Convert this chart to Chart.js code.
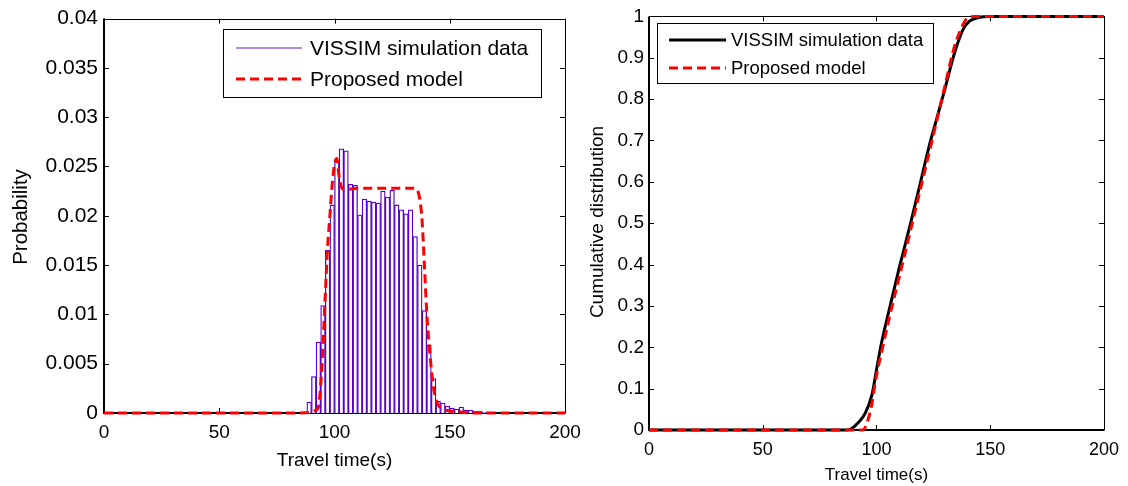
<!DOCTYPE html>
<html>
<head>
<meta charset="utf-8">
<script src="https://cdn.jsdelivr.net/npm/chart.js@4.4.1/dist/chart.umd.min.js"></script>
<style>
  html, body { margin: 0; padding: 0; background: #fff; }
  body { width: 1128px; height: 486px; position: relative; overflow: hidden; }
  canvas { position: absolute; top: 0; }
  #chart-pdf { left: 0; }
  #chart-cdf { left: 560px; }
</style>
</head>
<body>
<canvas id="chart-pdf" width="590" height="486"></canvas>
<canvas id="chart-cdf" width="568" height="486"></canvas>
<script>
// tick labels
const timeTicks = [0, 50, 100, 150, 200];
const probTicks = [0, 0.005, 0.01, 0.015, 0.02, 0.025, 0.03, 0.035, 0.04];
const cdfTicks = [0, 0.1, 0.2, 0.3, 0.4, 0.5, 0.6, 0.7, 0.8, 0.9, 1];

// histogram of VISSIM travel times (bin centres, 2 s bins)
const histCenters = [89, 91, 93, 95, 97, 99, 101, 103, 105, 107, 109, 111, 113, 115, 117, 119, 121, 123, 125, 127,
  129, 131, 133, 135, 137, 139, 141, 143, 145, 147, 149, 151, 153, 155, 157, 159, 161, 163, 165, 167];
const histProb = [0.0011, 0.0037, 0.0072, 0.0109, 0.0165, 0.0211, 0.0255, 0.0268, 0.0266, 0.0232,
  0.0231, 0.0201, 0.0217, 0.0215, 0.0214, 0.0213, 0.0225, 0.0219, 0.0226, 0.0211,
  0.0206, 0.0202, 0.0206, 0.0179, 0.0150, 0.0104, 0.0069, 0.0035, 0.0012, 0.0010,
  0.0007, 0.0005, 0.0004, 0.0006, 0.0003, 0.0003, 0.0002, 0.0002, 0.0001, 0.0001];

// proposed model pdf
const modelTime = [0, 85, 90, 92, 93, 94, 95, 96, 97, 98, 99, 100, 101, 102, 103, 104, 106, 110, 120, 130,
  135, 136, 137, 138, 139, 140, 141, 142, 143, 144, 145, 147, 150, 155, 160, 200];
const modelPdf = [0, 0, 0.0001, 0.0003, 0.0006, 0.0028, 0.0068, 0.0120, 0.0168, 0.0200, 0.0232, 0.0252, 0.0258, 0.0240, 0.0229, 0.0227, 0.0227, 0.0228, 0.0228, 0.0228,
  0.0228, 0.0226, 0.0217, 0.0195, 0.0150, 0.0103, 0.0070, 0.0045, 0.0025, 0.0014, 0.0008, 0.0004, 0.0002, 0.0001, 0, 0];

// cumulative distributions
const simCdfTime = [0, 87, 89, 92, 95, 98, 100, 102, 106, 110, 115, 119, 123, 127, 130, 134, 138, 141, 144, 147, 150, 200];
const simCdf = [0, 0, 0.003, 0.018, 0.04, 0.085, 0.145, 0.205, 0.3, 0.392, 0.5, 0.591, 0.683, 0.763, 0.823, 0.906, 0.968, 0.989, 0.996, 0.999, 1, 1];
const modelCdfTime = [0, 94, 96, 98, 99, 100, 102, 106, 112, 118, 124, 130, 134, 137, 139, 141, 143, 200];
const modelCdf = [0, 0, 0.02, 0.064, 0.1, 0.132, 0.183, 0.28, 0.415, 0.553, 0.69, 0.83, 0.922, 0.968, 0.99, 0.998, 1, 1];

const FONT = "'Liberation Sans', Arial, sans-serif";
const RED = "#ff0000";
const PURPLE = "#5a00c8";

const toPoints = (xs, ys) => xs.map((x, i) => ({ x: x, y: ys[i] }));
const fixTicks = (values) => (scale) => {
  scale.ticks = values.map((v) => ({ value: v }));
};

// matlab style box, inward ticks, axis titles and legend
const matlabFrame = {
  id: "matlabFrame",
  beforeDatasetsDraw(chart, args, opts) {
    const { ctx, chartArea: a, scales } = chart;
    const len = 5;
    ctx.save();
    ctx.strokeStyle = "#000";
    ctx.lineWidth = 1;
    ctx.beginPath();
    scales.x.ticks.forEach((t) => {
      const px = Math.round(scales.x.getPixelForValue(t.value)) + 0.5;
      ctx.moveTo(px, a.bottom); ctx.lineTo(px, a.bottom - len);
      ctx.moveTo(px, a.top); ctx.lineTo(px, a.top + len);
    });
    scales.y.ticks.forEach((t) => {
      const py = Math.round(scales.y.getPixelForValue(t.value)) + 0.5;
      ctx.moveTo(a.left, py); ctx.lineTo(a.left + len, py);
      ctx.moveTo(a.right, py); ctx.lineTo(a.right - len, py);
    });
    ctx.stroke();
    // top and right
    ctx.beginPath();
    ctx.moveTo(a.left, Math.round(a.top) + 0.5);
    ctx.lineTo(Math.round(a.right) + 0.5, Math.round(a.top) + 0.5);
    ctx.lineTo(Math.round(a.right) + 0.5, a.bottom);
    ctx.stroke();
    // left and bottom
    ctx.lineWidth = 2;
    ctx.beginPath();
    ctx.moveTo(Math.round(a.left), a.top);
    ctx.lineTo(Math.round(a.left), Math.round(a.bottom));
    ctx.lineTo(a.right + 0.5, Math.round(a.bottom));
    ctx.stroke();
    ctx.restore();
  },
  afterDatasetsDraw(chart, args, opts) {
    const { ctx, chartArea: a } = chart;
    ctx.save();
    ctx.fillStyle = "#000";
    ctx.textAlign = "center";
    ctx.textBaseline = "middle";
    ctx.font = opts.xTitleSize + "px " + FONT;
    ctx.fillText(opts.xTitle, (a.left + a.right) / 2, opts.xTitleY);
    ctx.save();
    ctx.translate(opts.yTitleX, opts.yTitleY);
    ctx.rotate(-Math.PI / 2);
    ctx.font = opts.yTitleSize + "px " + FONT;
    ctx.fillText(opts.yTitle, 0, 0);
    ctx.restore();

    const lg = opts.legend;
    ctx.fillStyle = "#fff";
    ctx.fillRect(lg.x, lg.y, lg.w, lg.h);
    ctx.strokeStyle = "#000";
    ctx.lineWidth = 1;
    ctx.strokeRect(lg.x + 0.5, lg.y + 0.5, lg.w, lg.h);
    ctx.font = lg.size + "px " + FONT;
    ctx.textAlign = "left";
    lg.items.forEach((it) => {
      ctx.strokeStyle = it.color;
      ctx.lineWidth = it.width;
      ctx.setLineDash(it.dash || []);
      ctx.beginPath();
      ctx.moveTo(lg.lineX0, it.y);
      ctx.lineTo(lg.lineX1, it.y);
      ctx.stroke();
      ctx.setLineDash([]);
      ctx.fillStyle = "#000";
      ctx.fillText(it.label, lg.textX, it.y + 1);
    });
    ctx.restore();
  },
};

const pdfChart = new Chart(document.getElementById("chart-pdf"), {
  type: "bar",
  data: {
    datasets: [
      {
        type: "line",
        label: "Proposed model",
        data: toPoints(modelTime, modelPdf),
        borderColor: RED,
        borderWidth: 3,
        borderDash: [9, 5],
        pointRadius: 0,
        cubicInterpolationMode: "monotone",
        clip: false,
        order: 0,
      },
      {
        type: "bar",
        label: "VISSIM simulation data",
        data: toPoints(histCenters, histProb),
        backgroundColor: "#ffffff",
        borderColor: PURPLE,
        borderWidth: 1.3,
        barPercentage: 1,
        categoryPercentage: 1,
        order: 1,
      },
    ],
  },
  plugins: [matlabFrame],
  options: {
    responsive: false,
    animation: false,
    layout: { padding: { top: 15, right: 25, left: 0, bottom: 0 } },
    scales: {
      x: {
        type: "linear",
        min: 0,
        max: 200,
        offset: false,
        afterBuildTicks: fixTicks(timeTicks),
        afterFit: (scale) => { scale.height = 73; },
        grid: { display: false, drawTicks: false },
        border: { display: false },
        ticks: { color: "#000", padding: 8, font: { family: FONT, size: 19 }, maxRotation: 0 },
      },
      y: {
        min: 0,
        max: 0.04,
        afterBuildTicks: fixTicks(probTicks),
        afterFit: (scale) => { scale.width = 104; },
        grid: { display: false, drawTicks: false },
        border: { display: false },
        ticks: { color: "#000", padding: 6, font: { family: FONT, size: 21 }, callback: (v) => String(v) },
      },
    },
    plugins: {
      legend: { display: false },
      tooltip: { enabled: false },
      matlabFrame: {
        xTitle: "Travel time(s)",
        xTitleSize: 19,
        xTitleY: 461,
        yTitle: "Probability",
        yTitleSize: 20.5,
        yTitleX: 21,
        yTitleY: 217,
        legend: {
          x: 223, y: 29, w: 318, h: 68, size: 21,
          lineX0: 236, lineX1: 302, textX: 310,
          items: [
            { label: "VISSIM simulation data", color: "#9466dc", width: 1.5, y: 48 },
            { label: "Proposed model", color: RED, width: 3, dash: [9, 5], y: 79 },
          ],
        },
      },
    },
  },
});

const cdfChart = new Chart(document.getElementById("chart-cdf"), {
  type: "line",
  data: {
    datasets: [
      {
        label: "Proposed model",
        data: toPoints(modelCdfTime, modelCdf),
        borderColor: RED,
        borderWidth: 3,
        borderDash: [9, 5],
        pointRadius: 0,
        cubicInterpolationMode: "monotone",
        clip: false,
        order: 0,
      },
      {
        label: "VISSIM simulation data",
        data: toPoints(simCdfTime, simCdf),
        borderColor: "#000000",
        borderWidth: 3,
        pointRadius: 0,
        cubicInterpolationMode: "monotone",
        clip: false,
        order: 1,
      },
    ],
  },
  plugins: [matlabFrame],
  options: {
    responsive: false,
    animation: false,
    layout: { padding: { top: 15, right: 20, left: 0, bottom: 0 } },
    scales: {
      x: {
        type: "linear",
        min: 0,
        max: 200,
        afterBuildTicks: fixTicks(timeTicks),
        afterFit: (scale) => { scale.height = 56; },
        grid: { display: false, drawTicks: false },
        border: { display: false },
        ticks: { color: "#000", padding: 9, font: { family: FONT, size: 18 }, maxRotation: 0 },
      },
      y: {
        min: 0,
        max: 1,
        afterBuildTicks: fixTicks(cdfTicks),
        afterFit: (scale) => { scale.width = 89; },
        grid: { display: false, drawTicks: false },
        border: { display: false },
        ticks: { color: "#000", padding: 5, font: { family: FONT, size: 19 }, callback: (v) => String(v) },
      },
    },
    plugins: {
      legend: { display: false },
      tooltip: { enabled: false },
      matlabFrame: {
        xTitle: "Travel time(s)",
        xTitleSize: 17,
        xTitleY: 475,
        yTitle: "Cumulative distribution",
        yTitleSize: 19,
        yTitleX: 38,
        yTitleY: 222,
        legend: {
          x: 97, y: 23, w: 276, h: 60, size: 18.5,
          lineX0: 109, lineX1: 166, textX: 171,
          items: [
            { label: "VISSIM simulation data", color: "#000000", width: 3, y: 40 },
            { label: "Proposed model", color: RED, width: 3, dash: [9, 5], y: 68 },
          ],
        },
      },
    },
  },
});
</script>
</body>
</html>
